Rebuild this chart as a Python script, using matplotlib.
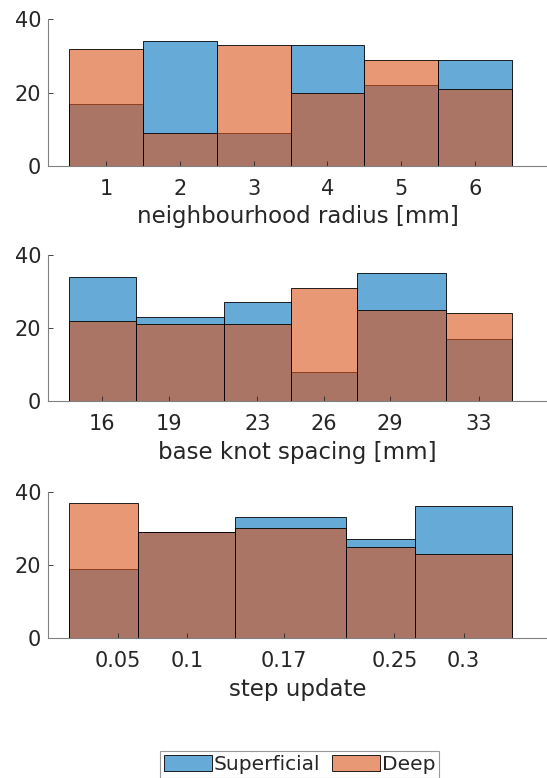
import numpy as np
import matplotlib.pyplot as plt
from matplotlib.patches import Patch

plt.rcParams['font.family'] = ['DejaVu Sans']

# bin edges and counts
radius_edges = [0.5, 1.5, 2.5, 3.5, 4.5, 5.5, 6.5]
radius_ticks = [1, 2, 3, 4, 5, 6]
radius_sup = [17, 34, 9, 33, 22, 29]
radius_deep = [32, 9, 33, 20, 29, 21]

knot_edges = [14.5, 17.5, 21.5, 24.5, 27.5, 31.5, 34.5]
knot_ticks = [16, 19, 23, 26, 29, 33]
knot_sup = [34, 23, 27, 8, 35, 17]
knot_deep = [22, 21, 21, 31, 25, 24]

step_edges = [0.015, 0.065, 0.135, 0.215, 0.265, 0.335]
step_ticks = [0.05, 0.1, 0.17, 0.25, 0.3]
step_labels = ['0.05', '0.1', '0.17', '0.25', '0.3']
step_sup = [19, 29, 33, 27, 36]
step_deep = [37, 29, 30, 25, 23]

blue = (0.0, 0.447, 0.741, 0.6)
orange = (0.85, 0.325, 0.098, 0.6)
axcol = (0.15, 0.15, 0.15)

fig = plt.figure(figsize=(5.47, 7.78), dpi=100)

panels = [
    (radius_edges, radius_ticks, [str(t) for t in radius_ticks], radius_sup, radius_deep,
     'neighbourhood radius [mm]', (0.2156, 6.974), 0.7866),
    (knot_edges, knot_ticks, [str(t) for t in knot_ticks], knot_sup, knot_deep,
     'base knot spacing [mm]', (13.55, 36.08), 0.4842),
    (step_edges, step_ticks, step_labels, step_sup, step_deep,
     'step update', (-0.0002, 0.3603), 0.1796),
]

for edges, ticks, labels, sup, deep, xlabel, xlim, bottom in panels:
    ax = fig.add_axes([0.0878, bottom, 1 - 0.0878, 0.1885])
    edges = np.array(edges)
    widths = np.diff(edges)
    ax.bar(edges[:-1], sup, width=widths, align='edge', facecolor=blue,
           edgecolor='black', linewidth=0.6)
    ax.bar(edges[:-1], deep, width=widths, align='edge', facecolor=orange,
           edgecolor='black', linewidth=0.6)
    ax.set_xlim(*xlim)
    ax.set_ylim(0, 40)
    ax.set_yticks([0, 20, 40])
    ax.set_xticks(ticks)
    ax.set_xticklabels(labels)
    ax.set_xlabel(xlabel, fontsize=16.5, color=axcol, labelpad=5)
    ax.tick_params(direction='in', length=3.5, width=0.6, labelsize=15,
                   colors=axcol, pad=5)
    ax.tick_params(axis='x', pad=9)
    for s in ['top', 'right']:
        ax.spines[s].set_visible(False)
    for s in ['left', 'bottom']:
        ax.spines[s].set_color((0.5, 0.5, 0.5))
        ax.spines[s].set_linewidth(0.8)

handles = [Patch(facecolor=blue, edgecolor='black', linewidth=0.6, label='Superficial'),
           Patch(facecolor=orange, edgecolor='black', linewidth=0.6, label='Deep')]
leg = fig.legend(handles=handles, loc='upper center', bbox_to_anchor=(0.548, 0.035),
                 ncol=2, fontsize=14.5, frameon=True, fancybox=False,
                 handlelength=2.35, handleheight=0.85, handletextpad=0.1,
                 columnspacing=0.6, borderpad=0.2, borderaxespad=0)
leg.get_frame().set_edgecolor((0.5, 0.5, 0.5))
leg.get_frame().set_linewidth(0.8)
for t in leg.get_texts():
    t.set_color(axcol)

fig.savefig('out.png', dpi=100)
